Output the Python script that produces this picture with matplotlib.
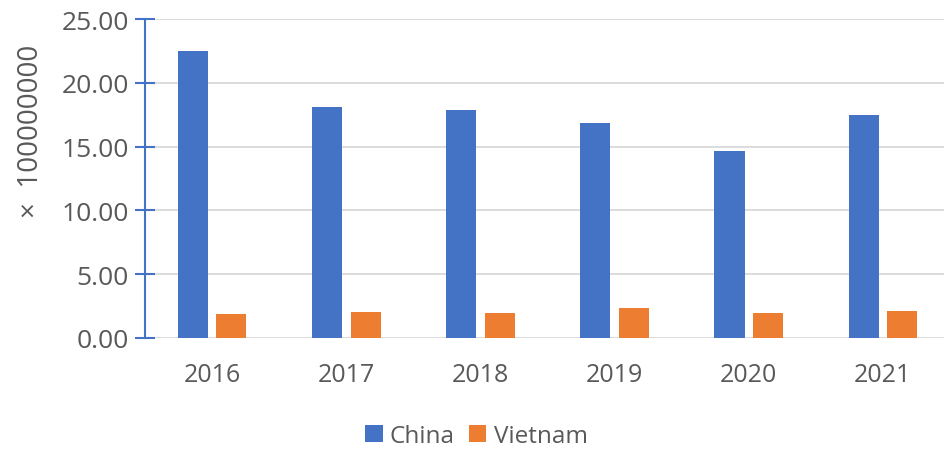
import matplotlib.pyplot as plt
import numpy as np

years = ["2016", "2017", "2018", "2019", "2020", "2021"]
china = [22.47, 18.09, 17.85, 16.86, 14.62, 17.49]
vietnam = [1.88, 2.00, 1.96, 2.35, 1.98, 2.14]

plt.rcParams['font.family'] = ['Open Sans', 'DejaVu Sans']
txt = '#595959'
blue = '#4472C4'
orange = '#ED7D31'

fig = plt.figure(figsize=(9.44, 4.52), dpi=100)
ax = fig.add_axes([145/944, 1 - 339/452, 799/944, 319/452])

x = np.arange(len(years))
w = 0.224
ax.bar(x - 0.14, china, w, color=blue, label='China', zorder=3)
ax.bar(x + 0.145, vietnam, w, color=orange, label='Vietnam', zorder=3)

ax.set_xlim(-0.5, 5.46)
ax.set_ylim(0, 25)
ax.set_yticks(np.arange(0, 26, 5))
ax.set_yticklabels([f"{v:.2f}" for v in np.arange(0, 26, 5)])
ax.set_xticks(x)
ax.set_xticklabels(years)

ax.grid(axis='y', color='#d9d9d9', linewidth=1.3, zorder=0)
for s in ['top', 'right', 'bottom']:
    ax.spines[s].set_visible(False)
ax.spines['left'].set_color(blue)
ax.spines['left'].set_linewidth(1.5)
ax.tick_params(axis='y', direction='inout', length=15, width=1.5, color=blue,
               labelsize=19, labelcolor=txt, pad=4)
ax.tick_params(axis='x', length=0, labelsize=18, labelcolor=txt, pad=17)

ax.set_ylabel('×  100000000', fontsize=20, color=txt)
ax.yaxis.set_label_coords(-0.125, 0.65)

ax.legend(loc='upper center', bbox_to_anchor=(0.415, -0.2), ncol=2, frameon=False,
          fontsize=17.5, labelcolor=txt, handlelength=0.7, handleheight=0.7,
          handletextpad=0.3, columnspacing=0.6)

fig.savefig('out.png', dpi=100)
